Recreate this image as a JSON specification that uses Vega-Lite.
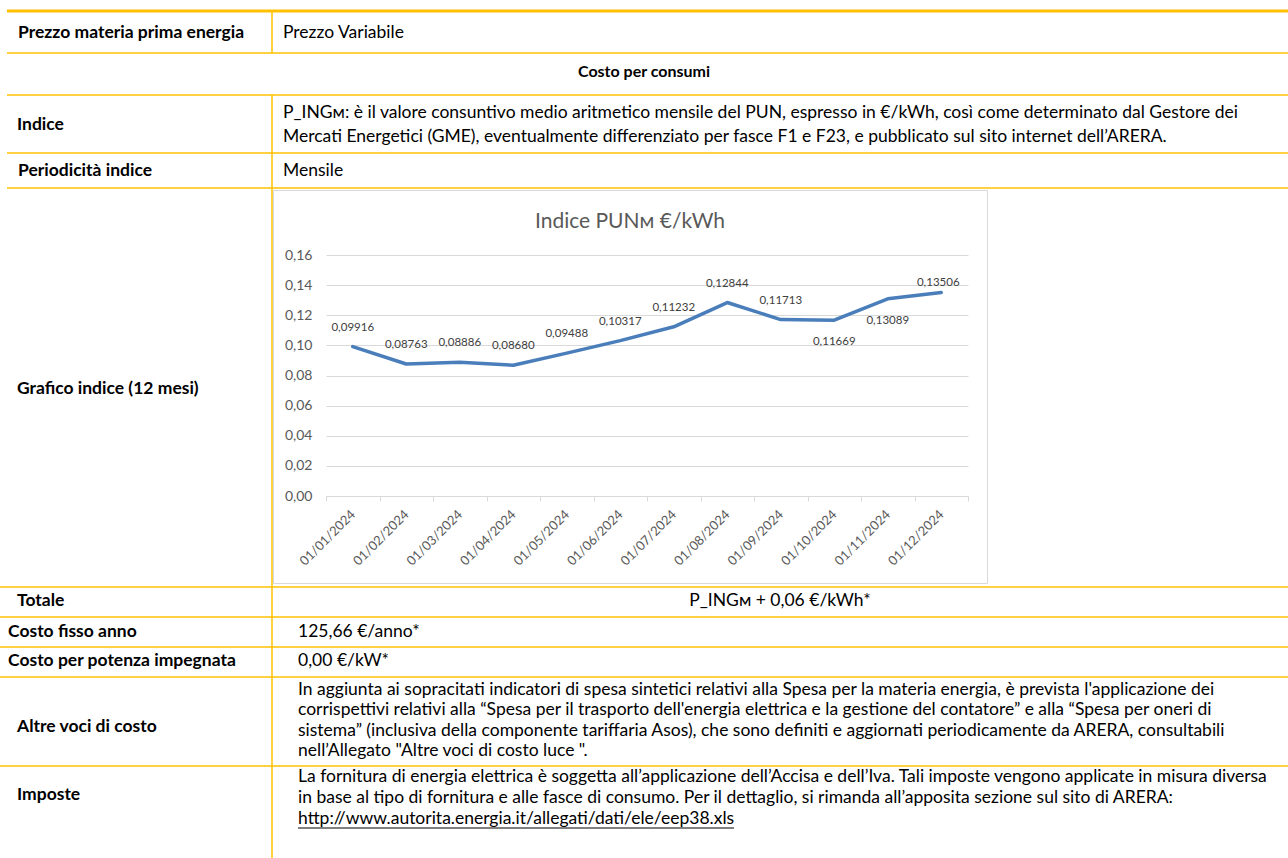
{
  "$schema": "https://vega.github.io/schema/vega-lite/v6.json",
  "width": 1288,
  "height": 858,
  "autosize": {"type": "none"},
  "padding": 0,
  "background": "white",
  "data": {"values": [{"part": "table frame"}]},
  "config": {
    "view": {"stroke": null},
    "text": {"font": "Lato", "color": "#000000", "fontSize": 17.5, "align": "left", "baseline": "middle"},
    "rule": {"color": "#FFC000", "strokeWidth": 1.5},
    "locale": {"number": {"decimal": ",", "thousands": ".", "grouping": [3], "currency": ["€", ""]}}
  },
  "layer": [
    {"mark": {"type": "rule", "strokeWidth": 3}, "encoding": {"x": {"value": 7}, "x2": {"value": 1288}, "y": {"value": 11}}},
    {"mark": "rule", "encoding": {"x": {"value": 7}, "x2": {"value": 1288}, "y": {"value": 53}}},
    {"mark": "rule", "encoding": {"x": {"value": 7}, "x2": {"value": 1288}, "y": {"value": 95}}},
    {"mark": "rule", "encoding": {"x": {"value": 7}, "x2": {"value": 1288}, "y": {"value": 153}}},
    {"mark": "rule", "encoding": {"x": {"value": 7}, "x2": {"value": 1288}, "y": {"value": 188}}},
    {"mark": "rule", "encoding": {"x": {"value": 0}, "x2": {"value": 1288}, "y": {"value": 587}}},
    {"mark": "rule", "encoding": {"x": {"value": 0}, "x2": {"value": 1288}, "y": {"value": 617}}},
    {"mark": "rule", "encoding": {"x": {"value": 0}, "x2": {"value": 1288}, "y": {"value": 647}}},
    {"mark": "rule", "encoding": {"x": {"value": 0}, "x2": {"value": 1288}, "y": {"value": 677}}},
    {"mark": "rule", "encoding": {"x": {"value": 0}, "x2": {"value": 1288}, "y": {"value": 766}}},
    {"mark": "rule", "encoding": {"x": {"value": 272}, "y": {"value": 11}, "y2": {"value": 53}}},
    {"mark": "rule", "encoding": {"x": {"value": 272}, "y": {"value": 95}, "y2": {"value": 858}}},
    {"mark": {"type": "rect", "filled": false, "stroke": "#d9d9d9", "strokeWidth": 1}, "encoding": {"x": {"value": 273.5}, "x2": {"value": 987.5}, "y": {"value": 190.5}, "y2": {"value": 583.5}}},
    {"mark": {"type": "rule", "color": "#000000", "strokeWidth": 1}, "encoding": {"x": {"value": 298}, "x2": {"value": 734}, "y": {"value": 828}}},

    {"data": {"values": [{"t": "Prezzo materia prima energia"}]}, "mark": {"type": "text", "fontWeight": "bold"}, "encoding": {"x": {"value": 18}, "y": {"value": 33}, "text": {"field": "t"}}},
    {"data": {"values": [{"t": "Prezzo Variabile"}]}, "mark": "text", "encoding": {"x": {"value": 283}, "y": {"value": 33}, "text": {"field": "t"}}},
    {"data": {"values": [{"t": "Costo per consumi"}]}, "mark": {"type": "text", "fontWeight": "bold", "align": "center", "fontSize": 16}, "encoding": {"x": {"value": 644}, "y": {"value": 72}, "text": {"field": "t"}}},
    {"data": {"values": [{"t": "Indice"}]}, "mark": {"type": "text", "fontWeight": "bold"}, "encoding": {"x": {"value": 17}, "y": {"value": 125}, "text": {"field": "t"}}},
    {"data": {"values": [{"t": "P_INGᴍ: è il valore consuntivo medio aritmetico mensile del PUN, espresso in €/kWh, così come determinato dal Gestore dei\nMercati Energetici (GME), eventualmente differenziato per fasce F1 e F23, e pubblicato sul sito internet dell’ARERA."}]}, "mark": {"type": "text", "lineBreak": "\n", "lineHeight": 24}, "encoding": {"x": {"value": 283}, "y": {"value": 113}, "text": {"field": "t"}}},
    {"data": {"values": [{"t": "Periodicità indice"}]}, "mark": {"type": "text", "fontWeight": "bold"}, "encoding": {"x": {"value": 18}, "y": {"value": 171}, "text": {"field": "t"}}},
    {"data": {"values": [{"t": "Mensile"}]}, "mark": "text", "encoding": {"x": {"value": 283}, "y": {"value": 171}, "text": {"field": "t"}}},
    {"data": {"values": [{"t": "Grafico indice (12 mesi)"}]}, "mark": {"type": "text", "fontWeight": "bold"}, "encoding": {"x": {"value": 17}, "y": {"value": 389}, "text": {"field": "t"}}},
    {"data": {"values": [{"t": "Totale"}]}, "mark": {"type": "text", "fontWeight": "bold"}, "encoding": {"x": {"value": 17}, "y": {"value": 601}, "text": {"field": "t"}}},
    {"data": {"values": [{"t": "P_INGᴍ + 0,06 €/kWh*"}]}, "mark": {"type": "text", "align": "center"}, "encoding": {"x": {"value": 780}, "y": {"value": 601}, "text": {"field": "t"}}},
    {"data": {"values": [{"t": "Costo fisso anno"}]}, "mark": {"type": "text", "fontWeight": "bold"}, "encoding": {"x": {"value": 8}, "y": {"value": 632}, "text": {"field": "t"}}},
    {"data": {"values": [{"t": "125,66 €/anno*"}]}, "mark": "text", "encoding": {"x": {"value": 298}, "y": {"value": 632}, "text": {"field": "t"}}},
    {"data": {"values": [{"t": "Costo per potenza impegnata"}]}, "mark": {"type": "text", "fontWeight": "bold"}, "encoding": {"x": {"value": 8}, "y": {"value": 661}, "text": {"field": "t"}}},
    {"data": {"values": [{"t": "0,00 €/kW*"}]}, "mark": "text", "encoding": {"x": {"value": 298}, "y": {"value": 661}, "text": {"field": "t"}}},
    {"data": {"values": [{"t": "Altre voci di costo"}]}, "mark": {"type": "text", "fontWeight": "bold"}, "encoding": {"x": {"value": 17}, "y": {"value": 727}, "text": {"field": "t"}}},
    {"data": {"values": [{"t": "In aggiunta ai sopracitati indicatori di spesa sintetici relativi alla Spesa per la materia energia, è prevista l'applicazione dei\ncorrispettivi relativi alla “Spesa per il trasporto dell'energia elettrica e la gestione del contatore” e alla “Spesa per oneri di\nsistema” (inclusiva della componente tariffaria Asos), che sono definiti e aggiornati periodicamente da ARERA, consultabili\nnell’Allegato \"Altre voci di costo luce \"."}]}, "mark": {"type": "text", "lineBreak": "\n", "lineHeight": 20.4}, "encoding": {"x": {"value": 298}, "y": {"value": 690}, "text": {"field": "t"}}},
    {"data": {"values": [{"t": "Imposte"}]}, "mark": {"type": "text", "fontWeight": "bold"}, "encoding": {"x": {"value": 17}, "y": {"value": 795}, "text": {"field": "t"}}},
    {"data": {"values": [{"t": "La fornitura di energia elettrica è soggetta all’applicazione dell’Accisa e dell’Iva. Tali imposte vengono applicate in misura diversa\nin base al tipo di fornitura e alle fasce di consumo. Per il dettaglio, si rimanda all’apposita sezione sul sito di ARERA:\nhttp://www.autorita.energia.it/allegati/dati/ele/eep38.xls"}]}, "mark": {"type": "text", "lineBreak": "\n", "lineHeight": 21}, "encoding": {"x": {"value": 298}, "y": {"value": 777}, "text": {"field": "t"}}},

    {"data": {"values": [{"t": "Indice PUNᴍ €/kWh"}]}, "mark": {"type": "text", "align": "center", "fontSize": 21, "color": "#595959"}, "encoding": {"x": {"value": 630}, "y": {"value": 222}, "text": {"field": "t"}}},

    {
      "data": {"values": [
        {"date": "01/01/2024", "pun": 0.09916},
        {"date": "01/02/2024", "pun": 0.08763},
        {"date": "01/03/2024", "pun": 0.08886},
        {"date": "01/04/2024", "pun": 0.08680},
        {"date": "01/05/2024", "pun": 0.09488},
        {"date": "01/06/2024", "pun": 0.10317},
        {"date": "01/07/2024", "pun": 0.11232},
        {"date": "01/08/2024", "pun": 0.12844},
        {"date": "01/09/2024", "pun": 0.11713},
        {"date": "01/10/2024", "pun": 0.11669},
        {"date": "01/11/2024", "pun": 0.13089},
        {"date": "01/12/2024", "pun": 0.13506}
      ]},
      "encoding": {
        "x": {"field": "date", "type": "ordinal", "sort": null, "bandPosition": 0.5,
          "scale": {"type": "band", "range": [326, 968], "paddingInner": 0, "paddingOuter": 0},
          "axis": {"orient": "bottom", "offset": -362, "title": null, "grid": false, "labelAngle": -45, "labelAlign": "right", "labelBaseline": "middle", "labelFont": "Lato", "labelFontSize": 13, "labelColor": "#595959", "labelPadding": 11, "domainColor": "#d9d9d9", "domainWidth": 1, "tickColor": "#d9d9d9", "tickWidth": 1, "tickSize": 5, "tickBand": "extent"}},
        "y": {"field": "pun", "type": "quantitative",
          "scale": {"domain": [0, 0.16], "range": [496, 255], "nice": false, "zero": true},
          "axis": {"orient": "left", "offset": -326, "title": null, "values": [0, 0.02, 0.04, 0.06, 0.08, 0.1, 0.12, 0.14, 0.16], "format": ".2f", "grid": true, "gridColor": "#d9d9d9", "gridWidth": 1, "domain": false, "ticks": false, "labelPadding": 14, "labelFont": "Lato", "labelFontSize": 14, "labelColor": "#595959"}}
      },
      "layer": [
        {"mark": {"type": "line", "color": "#4a7ebb", "strokeWidth": 3.5, "strokeCap": "round", "strokeJoin": "round"}},
        {"transform": [{"filter": "indexof(['01/10/2024','01/11/2024','01/12/2024'], datum.date) < 0"}],
         "mark": {"type": "text", "align": "center", "dy": -19, "fontSize": 11.5, "color": "#404040"},
         "encoding": {"text": {"field": "pun", "type": "quantitative", "format": ".5f"}}},
        {"transform": [{"filter": "indexof(['01/10/2024','01/11/2024'], datum.date) >= 0"}],
         "mark": {"type": "text", "align": "center", "dy": 22, "fontSize": 11.5, "color": "#404040"},
         "encoding": {"text": {"field": "pun", "type": "quantitative", "format": ".5f"}}},
        {"transform": [{"filter": "datum.date == '01/12/2024'"}],
         "mark": {"type": "text", "align": "center", "dy": -10, "dx": -3, "fontSize": 11.5, "color": "#404040"},
         "encoding": {"text": {"field": "pun", "type": "quantitative", "format": ".5f"}}}
      ]
    }
  ]
}
